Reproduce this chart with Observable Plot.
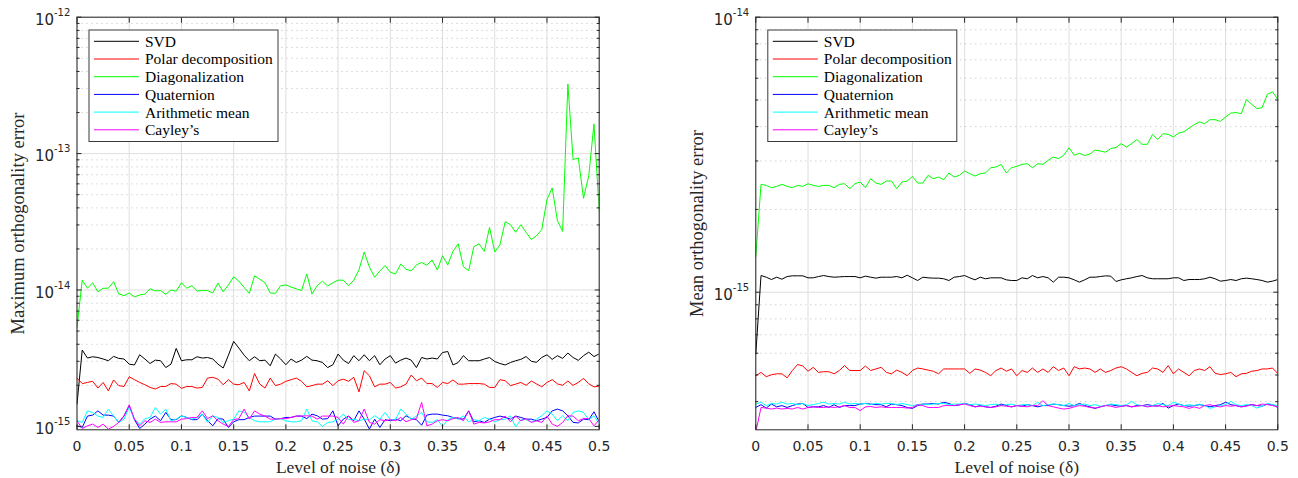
<!DOCTYPE html>
<html><head><meta charset="utf-8">
<script src="https://cdn.jsdelivr.net/npm/d3@7"></script>
<script src="https://cdn.jsdelivr.net/npm/@observablehq/plot@0.6"></script>
<style>
body{margin:0;background:#fff;}
#wrap{display:flex;width:1298px;height:478px;overflow:hidden;}
#wrap svg{display:block;}
</style></head><body><div id="wrap"></div>
<script>
// ---------- categories / colours ----------
const methods = ["SVD", "Polar decomposition", "Diagonalization", "Quaternion", "Arithmetic mean", "Cayley’s"];
const colors  = ["#000000", "#ff0000", "#00ff00", "#0000ff", "#00ffff", "#ff00ff"];

// ---------- x sampling grid and ticks ----------
const noiseLevels = d3.range(101).map(i => i / 200); // 0 .. 0.5 step 0.005
const xTicks = [0, 0.05, 0.1, 0.15, 0.2, 0.25, 0.3, 0.35, 0.4, 0.45, 0.5];
const xTickLabels = ["0", "0.05", "0.1", "0.15", "0.2", "0.25", "0.3", "0.35", "0.4", "0.45", "0.5"];

// ---------- LEFT: maximum orthogonality error (units of 1e-15) ----------
const maxUnit = 1e-15;
const maxSVD = [
  1.46,3.63,3.17,3.24,3.2,3.12,3.03,3.26,3.15,3.12,
  2.86,2.82,3.35,3.12,2.89,3.06,3.03,2.7,2.86,3.73,
  3.03,3.08,3.08,3.24,3.17,3.2,3.12,2.86,2.68,3.33,
  4.2,3.75,3.33,3.03,3.24,3.03,3.06,2.78,3.39,3.12,
  2.83,3.12,2.94,3.06,3.26,3.06,3.03,2.94,2.70,2.83,
  3.39,3.06,2.89,3.30,3.03,3.35,3.03,3.30,2.83,3.12,
  3.30,2.91,3.06,3.17,3.06,2.70,3.2,3.12,3.17,3.12,
  3.48,3.54,2.82,2.94,3.30,3.03,3.03,3.03,3.12,3.2,
  2.99,2.89,2.82,2.94,3.03,3.1,3.25,3.0,2.95,3.2,
  3.35,3.1,3.3,3.15,3.45,3.2,3.05,3.3,3.5,3.25,
  3.4];
const maxPolar = [
  2.26,2.06,2.10,2.14,1.91,2.10,1.82,2.19,1.99,1.96,
  2.31,2.20,2.10,2.02,1.93,1.88,1.96,1.96,2.06,2.04,
  1.90,1.96,1.96,1.91,1.93,2.26,2.29,2.22,2.02,2.20,
  2.04,2.02,2.10,1.82,2.44,2.04,1.91,2.26,1.99,2.04,
  2.14,2.20,2.26,2.14,1.95,1.99,2.04,2.04,2.16,1.99,
  2.16,2.22,2.14,2.29,1.79,2.56,2.35,1.95,2.04,2.04,
  2.10,1.91,1.95,2.04,2.38,2.16,2.26,2.06,2.06,1.93,
  2.10,2.06,2.19,2.04,2.04,2.06,2.06,2.06,2.04,1.93,
  1.93,2.20,2.16,1.99,2.04,2.1,2.0,2.15,2.05,1.95,
  2.1,2.2,2.05,2.0,2.15,2.0,2.1,2.25,2.05,1.95,
  1.97];
const maxDiag = [
  5.3,11.8,10.3,11.3,9.7,10.3,10.3,11.5,9.35,9.1,
  9.5,8.9,9.2,9.35,10.2,9.85,9.9,9.3,10.0,9.8,
  11.3,10.3,10.75,9.85,9.9,9.9,9.5,11.25,9.7,10.9,
  12.5,11.6,10.45,9.45,12.7,12.0,11.3,9.5,9.45,10.75,
  10.9,10.5,10.2,9.9,13.1,9.35,10.75,11.6,10.7,11.3,
  11.8,11.8,10.75,11.8,14.1,19.0,14.7,12.4,13.8,15.1,
  13.5,13.1,15.5,14.2,13.8,15.3,15.9,15.2,16.6,14.0,
  17.85,15.25,19.2,21.8,14.8,13.85,20.8,21.8,19.2,28.8,
  19.0,21.5,31.7,30.1,26.5,30.1,26.5,23.4,25.0,27.7,
  46.0,56.0,32.2,26.9,324,90.4,93,47,69,165,
  38];
const maxQuat = [
  1.01,0.982,1.19,1.21,1.30,1.21,1.21,1.19,1.07,1.19,
  1.416,1.12,0.965,1.039,1.13,1.19,1.10,1.265,1.12,1.12,
  1.196,1.163,1.12,1.12,1.23,1.10,1.01,1.14,1.13,0.982,
  1.08,1.12,1.12,1.163,1.19,1.19,1.19,1.19,1.13,1.14,
  1.163,1.163,1.19,1.19,1.14,1.23,1.196,1.13,1.14,1.30,
  1.01,1.13,1.19,1.10,1.30,1.13,0.955,1.13,0.982,1.12,
  1.10,1.13,1.10,1.196,1.14,1.12,1.02,1.21,1.23,1.23,
  1.21,1.196,1.163,1.14,1.13,1.30,1.08,1.10,1.069,1.13,
  1.163,1.19,1.163,1.13,1.19,1.163,1.13,1.13,1.10,1.13,
  1.163,1.30,1.339,1.30,1.196,1.069,1.06,1.13,1.12,1.28,
  1.08];
const maxArith = [
  1.10,1.069,1.30,1.265,1.19,1.163,1.339,1.19,1.069,1.13,
  1.377,1.13,1.039,1.14,1.163,1.377,1.23,1.339,1.10,1.13,
  1.196,1.163,1.13,1.163,1.23,1.069,1.196,1.163,1.069,1.10,
  1.13,1.30,1.265,1.163,1.10,1.08,1.08,1.08,1.13,1.14,
  1.10,1.08,1.08,1.10,1.339,1.10,1.08,1.0,1.069,1.08,
  1.13,1.23,1.12,1.13,1.10,1.13,1.12,1.196,1.13,1.265,
  1.12,1.12,1.339,1.23,1.13,1.19,1.265,1.08,1.069,1.12,
  1.0,1.12,1.163,1.13,1.196,1.08,1.12,1.10,1.163,1.13,
  1.08,1.12,1.13,1.196,0.99,1.12,1.12,1.08,1.13,1.196,
  1.30,1.23,1.10,1.196,1.10,1.265,1.30,1.265,1.12,1.196,
  1.039];
const maxCayley = [
  1.10,0.965,1.01,1.039,0.982,1.039,0.955,1.0,1.069,1.196,
  1.44,1.13,1.01,1.10,1.069,1.13,1.069,1.08,1.08,1.08,
  1.13,1.14,1.163,1.163,1.30,1.14,1.196,1.10,1.039,1.0,
  1.12,1.14,1.339,1.13,1.30,1.23,1.19,1.13,1.13,1.14,
  1.14,1.163,1.19,1.19,1.196,1.19,1.13,1.19,1.19,1.19,
  1.163,1.039,1.19,1.069,1.10,1.339,1.069,1.039,1.12,1.10,
  1.12,1.10,1.163,1.08,1.12,1.14,1.5,1.01,1.039,1.10,
  1.12,1.10,1.14,1.163,1.10,1.30,1.039,1.069,1.06,1.08,
  1.12,1.12,1.19,1.08,1.19,1.10,1.14,1.069,1.10,1.069,
  1.19,1.039,1.0,1.069,1.196,1.19,1.10,1.14,1.14,1.01,
  1.12];

// ---------- RIGHT: mean orthogonality error (units of 1e-16) ----------
const meanUnit = 1e-16;
const meanSVD = [
  5.97,11.50,11.34,11.12,11.34,11.15,11.40,11.47,11.47,11.47,
  11.28,11.28,11.40,11.50,11.40,11.34,11.37,11.40,11.40,11.40,
  11.28,11.44,11.34,11.25,11.34,11.34,11.34,11.40,11.28,11.53,
  11.28,11.03,11.34,11.28,11.25,11.25,11.19,11.03,11.34,11.40,
  11.50,11.28,11.09,11.34,11.19,11.28,11.28,11.28,11.09,11.03,
  11.03,11.28,11.19,11.50,11.28,11.40,11.28,10.88,11.34,11.34,
  11.28,11.09,10.88,11.09,11.34,11.34,11.40,11.47,11.44,10.94,
  11.09,11.19,11.28,11.40,11.50,11.28,11.19,11.19,11.19,11.19,
  11.28,11.28,11.03,11.12,11.12,11.12,11.19,11.34,11.19,10.97,
  11.03,11.12,11.03,11.19,11.25,11.19,11.12,11.03,10.88,10.97,
  11.12];
const meanPolar = [
  4.97,5.11,4.93,5.01,5.05,5.05,4.88,5.19,5.46,5.39,
  5.16,5.33,5.11,5.14,5.14,5.05,5.19,5.41,5.19,5.19,
  5.19,5.39,5.19,5.26,5.33,5.11,5.05,5.21,5.11,4.97,
  5.19,5.30,5.26,5.21,5.16,5.05,5.26,5.26,5.26,5.26,
  5.26,5.07,5.26,5.21,5.11,4.97,5.19,5.30,5.16,5.26,
  4.97,5.19,5.11,5.30,5.11,5.26,5.11,5.36,5.19,5.30,
  4.97,5.36,5.26,5.30,5.26,5.11,5.26,5.11,5.19,5.30,
  5.36,5.26,5.11,4.97,5.07,5.11,5.30,5.26,5.11,5.41,
  5.05,5.26,5.11,4.97,5.19,5.26,5.19,5.36,5.07,5.02,
  5.05,5.11,4.93,5.05,5.07,5.16,5.19,5.26,5.26,5.30,
  5.06];
const meanDiag = [
  13.5,24.67,24.46,23.99,24.25,24.67,24.25,23.99,24.46,24.25,
  24.8,24.46,24.25,24.46,24.46,23.99,24.67,24.8,23.79,24.8,
  25.16,23.99,25.86,24.94,24.67,25.37,25.37,23.79,25.16,25.37,
  26.37,24.94,24.94,26.6,25.86,26.23,25.65,27.13,26.23,26.6,
  27.58,26.98,26.45,26.98,27.13,28.36,28.52,29.16,27.13,28.36,
  28.68,29.16,29.33,28.36,29.33,29.16,30.16,31.0,30.6,31.5,
  33.5,31.5,32.0,31.4,31.8,32.9,32.6,32.3,33.3,33.6,
  34.7,33.7,34.7,35.9,34.5,34.5,37.5,35.9,37.7,37.5,
  36.7,37.9,38.3,39.5,40.7,41.6,41.0,42.4,42.4,41.8,
  43.4,44.8,45.0,44.6,50.2,48.2,46.5,46.9,52.5,53.5,
  50.2];
const meanQuat = [
  3.81,3.90,3.79,3.92,3.83,3.87,3.81,3.87,3.92,3.94,
  3.81,3.83,3.83,3.87,3.81,3.90,3.81,3.87,3.87,3.87,
  3.92,3.94,3.92,3.90,3.90,3.83,3.92,3.90,3.87,3.81,
  3.78,3.87,3.92,3.92,3.94,3.92,3.98,3.94,3.87,3.89,
  3.94,3.90,3.83,3.87,3.83,3.81,3.85,3.92,3.87,3.83,
  3.87,3.85,3.90,3.87,3.83,3.87,3.87,3.92,3.90,3.87,
  3.85,3.87,3.94,3.87,3.83,3.78,3.83,3.87,3.90,3.87,
  3.85,3.87,3.83,3.87,3.87,3.90,3.87,3.85,3.94,3.79,
  3.87,3.92,3.87,3.85,3.87,3.90,3.87,3.83,3.87,3.90,
  3.98,3.90,3.87,3.83,3.87,3.90,3.87,3.85,3.92,3.90,
  3.81];
const meanArith = [
  3.92,3.98,3.87,3.94,3.92,3.98,3.92,3.94,3.90,3.94,
  3.87,3.90,3.94,3.98,3.92,3.94,3.92,3.98,3.92,3.94,
  3.92,3.94,3.90,3.94,3.92,3.94,3.94,3.90,3.94,3.90,
  3.87,3.90,3.92,3.90,3.92,3.94,3.94,3.90,3.92,3.92,
  3.94,3.90,3.92,3.90,3.87,3.90,3.92,3.87,3.90,3.92,
  3.87,3.90,3.90,3.87,3.98,3.87,3.90,3.92,3.90,3.87,
  3.94,3.87,3.90,3.92,3.87,3.90,3.85,3.87,3.92,3.90,
  3.87,3.90,4.01,3.90,3.87,3.83,3.87,3.94,3.90,3.87,
  3.98,3.92,3.87,3.90,3.87,3.92,3.87,3.78,3.83,3.87,
  3.90,4.01,3.90,3.87,3.90,3.87,3.79,3.85,3.94,3.90,
  3.87];
const meanCayley = [
  3.10,3.81,3.79,3.76,3.79,3.76,3.78,3.76,3.81,3.76,
  3.81,3.83,3.81,3.81,3.83,3.81,3.83,3.87,3.81,3.81,
  3.71,3.83,3.84,3.81,3.83,3.81,3.81,3.81,3.81,3.79,
  3.81,3.90,3.87,3.81,3.81,3.81,3.87,3.87,3.87,3.90,
  3.92,3.87,3.83,3.85,3.83,3.81,3.83,3.87,3.85,3.83,
  3.87,3.85,3.83,3.87,3.87,4.03,3.87,3.83,3.79,3.76,
  3.78,3.83,3.87,3.85,3.81,3.79,3.83,3.87,3.85,3.81,
  3.85,3.87,3.83,3.85,3.87,3.83,3.85,3.87,3.83,3.85,
  3.87,3.85,3.83,3.78,3.83,3.78,3.87,3.90,3.85,3.83,
  3.87,3.85,3.87,3.83,3.85,3.90,3.87,3.92,3.90,3.87,
  3.83];

// ---------- axis tick values ----------
const leftMajor  = [1e-15, 1e-14, 1e-13, 1e-12];
const leftMinor  = [2,3,4,5,6,7,8,9].flatMap(m => [m*1e-15, m*1e-14, m*1e-13]);
const leftDomain = [9.44e-16, 1e-12];
const rightMajor = [1e-15, 1e-14];
const rightMinor = [4e-16,5e-16,6e-16,7e-16,8e-16,9e-16, ...[2,3,4,5,6,7,8,9].map(m => m*1e-15)];
const rightDomain = [3.16e-16, 1e-14];

const SERIF = "'Liberation Serif','Times New Roman',serif";
const SANS = "'DejaVu Sans',Verdana,sans-serif";
const AX = "#262626";

function makePanel({series, unit, yDomain, yMajor, yMinor, yLabel, width, marginLeft, marginRight}) {
  const rows = [];
  series.forEach((vals, k) => vals.forEach((v, i) => rows.push({method: methods[k], x: noiseLevels[i], y: v * unit})));
  const tickOpts = {tickFormat: () => "", label: null, stroke: AX};
  const svg = Plot.plot({
    width, height: 478, marginLeft, marginRight, marginTop: 16.7, marginBottom: 48.7,
    x: {domain: [0, 0.5]},
    y: {type: "log", domain: yDomain},
    color: {domain: methods, range: colors},
    style: {fontFamily: SANS, color: AX, background: "#fff", overflow: "visible"},
    marks: [
      Plot.ruleX(xTicks, {stroke: "#dedede", strokeWidth: 1}),
      Plot.ruleY(yMinor, {stroke: "#bdbdbd", strokeWidth: 1, strokeDasharray: "1,4"}),
      Plot.ruleY(yMajor, {stroke: "#dedede", strokeWidth: 1}),
      Plot.line(rows, {x: "x", y: "y", z: "method", stroke: "method", strokeWidth: 1, clip: true}),
      Plot.frame({stroke: AX, strokeWidth: 1}),
      Plot.axisX({...tickOpts, anchor: "bottom", ticks: xTicks, tickSize: -5}),
      Plot.axisX({...tickOpts, anchor: "top", ticks: xTicks, tickSize: -5}),
      Plot.axisY({...tickOpts, anchor: "left", ticks: yMajor, tickSize: -5}),
      Plot.axisY({...tickOpts, anchor: "right", ticks: yMajor, tickSize: -5}),
      Plot.axisY({...tickOpts, anchor: "left", ticks: yMinor, tickSize: -3}),
      Plot.axisY({...tickOpts, anchor: "right", ticks: yMinor, tickSize: -3}),
      Plot.text(xTicks, {x: d => d, frameAnchor: "bottom", lineAnchor: "top", textAnchor: "middle",
        text: (d, i) => xTickLabels[i], dy: 11.5, fontSize: 14, fill: AX, fontFamily: SANS}),
      Plot.text(yMajor, {y: d => d, frameAnchor: "left", lineAnchor: "middle", text: () => "10", textAnchor: "end",
        dx: -23, dy: 3, fontSize: 15, fill: AX, fontFamily: SANS}),
      Plot.text(yMajor, {y: d => d, frameAnchor: "left", lineAnchor: "middle", text: d => String(Math.round(Math.log10(d))),
        textAnchor: "start", dx: -23, dy: -4.5, fontSize: 10, fill: AX, fontFamily: SANS}),
      Plot.text(["Level of noise (δ)"], {frameAnchor: "bottom", lineAnchor: "middle", textAnchor: "middle",
        dy: 37.5, fontSize: 17.5, fill: AX, fontFamily: SERIF}),
      Plot.text([yLabel], {frameAnchor: "left", lineAnchor: "middle", textAnchor: "middle", rotate: -90,
        dx: -59, fontSize: 18.5, fill: AX, fontFamily: SERIF})
    ]
  });
  // legend (inside the axes, top-left)
  const L = marginLeft, T = 16.7;
  const g = d3.select(svg).append("g").attr("class", "legend").attr("text-anchor", "start");
  g.append("rect").attr("x", L + 12.5).attr("y", T + 13.3).attr("width", 189).attr("height", 111.5)
    .attr("fill", "#fff").attr("stroke", "#3a3a3a").attr("stroke-width", 1);
  methods.forEach((m, k) => {
    const yy = T + 24.6 + k * 17.7;
    g.append("line").attr("x1", L + 17.5).attr("x2", L + 62.5).attr("y1", yy).attr("y2", yy)
      .attr("stroke", colors[k]).attr("stroke-width", 1);
    g.append("text").attr("x", L + 68.5).attr("y", yy).attr("dy", "0.35em").attr("text-anchor", "start")
      .attr("font-family", SERIF).attr("font-size", 15.5).attr("fill", "#000").text(m);
  });
  return svg;
}

const wrap = document.getElementById("wrap");
wrap.appendChild(makePanel({
  series: [maxSVD, maxPolar, maxDiag, maxQuat, maxArith, maxCayley], unit: maxUnit,
  yDomain: leftDomain, yMajor: leftMajor, yMinor: leftMinor, yLabel: "Maximum orthogonality error",
  width: 649, marginLeft: 76.5, marginRight: 50.3
}));
wrap.appendChild(makePanel({
  series: [meanSVD, meanPolar, meanDiag, meanQuat, meanArith, meanCayley], unit: meanUnit,
  yDomain: rightDomain, yMajor: rightMajor, yMinor: rightMinor, yLabel: "Mean orthogonality error",
  width: 649, marginLeft: 106.3, marginRight: 20.7
}));
</script></body></html>
